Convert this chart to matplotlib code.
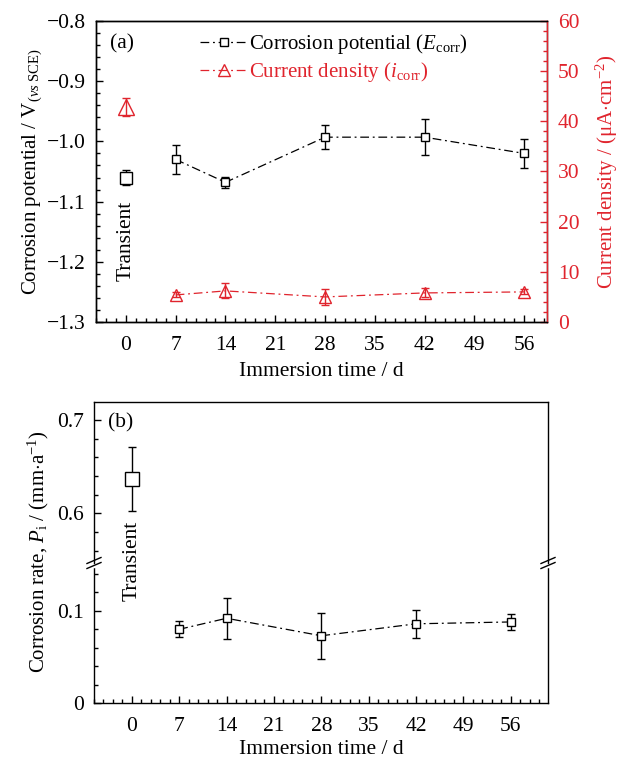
import matplotlib
matplotlib.use("Agg")
import matplotlib.pyplot as plt
from matplotlib.ticker import MultipleLocator, FuncFormatter
from matplotlib.lines import Line2D

plt.rcParams['font.family'] = ['Liberation Serif', 'DejaVu Serif']
plt.rcParams['mathtext.fontset'] = 'custom'
plt.rcParams['mathtext.rm'] = 'Liberation Serif'
plt.rcParams['mathtext.it'] = 'Liberation Serif:italic'
plt.rcParams['font.size'] = 15.5

RED = '#e0242d'

# data
days = [0, 7, 14, 28, 42, 56]
e_corr = [-1.060, -1.030, -1.068, -0.993, -0.993, -1.020]
e_err = [0.013, 0.024, 0.009, 0.020, 0.030, 0.024]
i_corr = [42.9, 5.4, 6.2, 5.0, 5.8, 6.0]
i_err = [1.8, 0.5, 1.5, 1.6, 0.9, 0.5]
rate = [0.637, 0.080, 0.092, 0.073, 0.086, 0.088]
rate_err = [0.034, 0.0085, 0.022, 0.025, 0.0155, 0.009]
xticks = [0, 7, 14, 21, 28, 35, 42, 49, 56]

dashdot = (0, (7, 3, 1.5, 3))

fig = plt.figure(figsize=(6.24, 7.6), dpi=100)

# ---------------- (a) ----------------
ax = fig.add_axes([0.1538, 0.5763, 0.7228, 0.3961])
ax2 = ax.twinx()

ax.errorbar(days[:1], e_corr[:1], yerr=e_err[:1], fmt='s', ms=8, mfc='white',
            mec='black', ecolor='black', elinewidth=1, capsize=3, mew=1)
ax.errorbar(days[1:], e_corr[1:], yerr=e_err[1:], fmt='s', ms=5.8, mfc='white',
            mec='black', ecolor='black', elinewidth=1, capsize=3, mew=1,
            ls=dashdot, color='black', lw=0.9)
ax2.errorbar(days[:1], i_corr[:1], yerr=i_err[:1], fmt='^', ms=12, mfc='none',
             mec=RED, ecolor=RED, elinewidth=1, capsize=3, mew=1)
ax2.errorbar(days[1:], i_corr[1:], yerr=i_err[1:], fmt='^', ms=8.5, mfc='none',
             mec=RED, ecolor=RED, elinewidth=1, capsize=3, mew=1,
             ls=dashdot, color=RED, lw=0.9)

ax.set_xlim(-4.2, 59.2)
ax.set_ylim(-1.3, -0.8)
ax2.set_ylim(0, 60)
ax.set_xticks(xticks)
ax.xaxis.set_minor_locator(MultipleLocator(1.4))
ax.yaxis.set_major_locator(MultipleLocator(0.1))
ax.yaxis.set_minor_locator(MultipleLocator(0.02))
ax2.yaxis.set_major_locator(MultipleLocator(10))
ax2.yaxis.set_minor_locator(MultipleLocator(2))
ax.yaxis.set_major_formatter(FuncFormatter(
    lambda v, p: ('\u2212%.1f' % abs(v)) if v < 0 else '%.1f' % v))

ax.tick_params(which='both', direction='in', top=False, right=False, width=1)
ax.tick_params(which='major', length=5, pad=7.5)
ax.tick_params(axis='x', which='major', pad=10)
ax.tick_params(which='minor', length=3)
ax2.tick_params(which='both', direction='in', colors=RED, width=1)
ax2.tick_params(which='major', length=5, pad=8)
ax2.tick_params(which='minor', length=3)
ax2.spines['right'].set_color(RED)
for a in (ax, ax2):
    for s in a.spines.values():
        s.set_linewidth(1)

ax.set_xlabel('Immersion time / d', labelpad=5)
ax.set_ylabel(r'Corrosion potential / V$_{(\mathit{vs}\ \mathrm{SCE})}$',
              labelpad=2, fontsize=15)
ax2.set_ylabel(r'Current density / ($\mathrm{\mu}$A$\cdot$cm$^{-2}$)', color=RED,
               labelpad=10, fontsize=15)

ax.text(0.03, 0.955, '(a)', transform=ax.transAxes, ha='left', va='top')
ax.text(0, -1.165, 'Transient', rotation=90, ha='center', va='center')

handles = [
    Line2D([], [], color='black', ls=dashdot, lw=0.9, marker='s', ms=5.8,
           mfc='white', mec='black'),
    Line2D([], [], color=RED, ls=dashdot, lw=0.9, marker='^', ms=8.5,
           mfc='none', mec=RED),
]
leg = ax.legend(handles, [r'Corrosion potential ($E_\mathrm{corr}$)',
                          r'Current density ($i_\mathrm{corr}$)'],
                loc='upper left', bbox_to_anchor=(0.19, 1.025), frameon=False,
                handlelength=2.3, handletextpad=0.05, labelspacing=0.2,
                fontsize=15)
leg.get_texts()[1].set_color(RED)

# ---------------- (b) ----------------
lo = fig.add_axes([0.1506, 0.075, 0.7276, 0.1842])
up = fig.add_axes([0.1506, 0.2592, 0.7276, 0.2118])
up.set_facecolor('none')

for a in (lo, up):
    a.errorbar(days[:1], rate[:1], yerr=rate_err[:1], fmt='s', ms=10,
               mfc='white', mec='black', ecolor='black', elinewidth=1,
               capsize=3, mew=1)
    a.errorbar(days[1:], rate[1:], yerr=rate_err[1:], fmt='s', ms=5.8,
               mfc='white', mec='black', ecolor='black', elinewidth=1,
               capsize=3, mew=1, ls=dashdot, color='black', lw=0.9)
    a.set_xlim(-5.6, 61.5)
    for s in a.spines.values():
        s.set_linewidth(1)
    a.tick_params(which='both', direction='in', top=False, right=False, width=1)
    a.tick_params(which='major', length=5, pad=7.5)
    a.tick_params(which='minor', length=3)
    a.yaxis.set_minor_locator(MultipleLocator(0.02))

lo.set_ylim(0, 0.152)
up.set_ylim(0.5467, 0.7193)
lo.set_yticks([0, 0.1])
lo.set_yticklabels(['0', '0.1'])
up.set_yticks([0.6, 0.7])
up.set_yticklabels(['0.6', '0.7'])
lo.set_xticks(xticks)
lo.xaxis.set_minor_locator(MultipleLocator(1.4))
lo.tick_params(axis='x', which='major', pad=10)
up.set_xticks([])
up.tick_params(which='both', bottom=False)
lo.spines['top'].set_visible(False)
up.spines['bottom'].set_visible(False)

lo.set_xlabel('Immersion time / d', labelpad=3)
fig.text(0.062, 0.2735, r'Corrosion rate, $P_\mathrm{i}$ / (mm$\cdot$a$^{-1}$)',
         rotation=90, ha='center', va='center', fontsize=15)
up.text(0.03, 0.93, '(b)', transform=up.transAxes, ha='left', va='top')
lo.text(0, 0.154, 'Transient', rotation=90, ha='center', va='center', zorder=7)

# axis break marks
bb = lo.get_position()
W = bb.width * 624
H = bb.height * 760
for x0 in (0, 1):
    lo.plot([x0, x0], [1 - 2.5 / H, 1 + 2.5 / H], transform=lo.transAxes,
            color='white', lw=2.5, clip_on=False, zorder=5)
    for off in (-2.5, 2.5):
        lo.plot([x0 - 7 / W, x0 + 7 / W],
                [1 + (off - 3) / H, 1 + (off + 3) / H],
                transform=lo.transAxes, color='black', lw=1, clip_on=False,
                zorder=6)

fig.savefig('out.png', dpi=100)
